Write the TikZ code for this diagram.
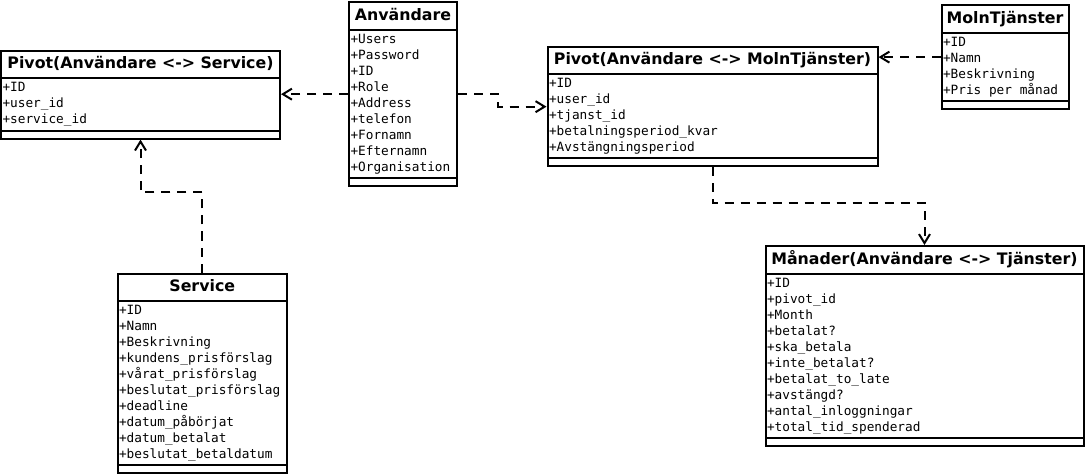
\documentclass[tikz,border=0pt]{standalone}
\usepackage{fontspec}
\setmainfont{DejaVu Sans}
\setmonofont{DejaVu Sans Mono}
\usetikzlibrary{arrows.meta,shapes.multipart}

\newcommand{\ctitle}[1]{{\fontsize{15.8}{19.3}\selectfont\rmfamily\bfseries\strut #1}}
\newcommand{\fields}[1]{\vbox{\let\\\cr\halign{##\hfil\cr#1\crcr}}}
\newcommand{\nomethods}{\rule{1pt}{0pt}}

\begin{document}
\begin{tikzpicture}[>={Straight Barb[length=9pt,width=11pt]},x=1pt,y=-1pt]
\tikzstyle{class}=[rectangle split, rectangle split parts=3, draw, line width=2pt, anchor=north west, inner xsep=1.5pt, inner ysep=3pt, rectangle split part align={center,left,left}, rectangle split empty part height=0pt, font=\ttfamily\fontsize{12.75}{16}\selectfont]
\tikzstyle{dep}=[->, line width=2pt, dash pattern=on 9pt off 7pt]
\useasboundingbox (0,0) rectangle (1088,476);

\node[class, minimum width=279pt] (piv1) at (0,50) {\ctitle{Pivot(Användare <-> Service)}\nodepart{two}\fields{+ID\\+user\_id\\+service\_id}\nodepart{three}\nomethods};
\node[class, minimum width=108pt] (anv) at (348,1.5) {\ctitle{Användare}\nodepart{two}\fields{+Users\\+Password\\+ID\\+Role\\+Address\\+telefon\\+Fornamn\\+Efternamn\\+Organisation}\nodepart{three}\nomethods};
\node[class, minimum width=330pt] (piv2) at (546.5,46) {\ctitle{Pivot(Användare <-> MolnTjänster)}\nodepart{two}\fields{+ID\\+user\_id\\+tjanst\_id\\+betalningsperiod\_kvar\\+Avstängningsperiod}\nodepart{three}\nomethods};
\node[class, minimum width=127pt] (moln) at (940.5,4.5) {\ctitle{MolnTjänster}\nodepart{two}\fields{+ID\\+Namn\\+Beskrivning\\+Pris per månad}\nodepart{three}\nomethods};
\node[class, minimum width=169.5pt] (serv) at (116.5,272.5) {\ctitle{Service}\nodepart{two}\fields{+ID\\+Namn\\+Beskrivning\\+kundens\_prisförslag\\+vårat\_prisförslag\\+beslutat\_prisförslag\\+deadline\\+datum\_påbörjat\\+datum\_betalat\\+beslutat\_betaldatum}\nodepart{three}\nomethods};
\node[class, minimum width=318pt] (man) at (764.5,245) {\ctitle{Månader(Användare <-> Tjänster)}\nodepart{two}\fields{+ID\\+pivot\_id\\+Month\\+betalat?\\+ska\_betala\\+inte\_betalat?\\+betalat\_to\_late\\+avstängd?\\+antal\_inloggningar\\+total\_tid\_spenderad}\nodepart{three}\nomethods};

\draw[dep] (anv.west) -- (anv.west -| piv1.east);
\draw[dep] (anv.east) -- ++(40,0) |- (piv2.west);
\draw[dep] (moln.west) -- (moln.west -| piv2.east);
\draw[dep] (serv.north) -- ++(0,-80) -| (piv1.south);
\draw[dep] (piv2.south) -- ++(0,36) -| (man.north);
\end{tikzpicture}
\end{document}
